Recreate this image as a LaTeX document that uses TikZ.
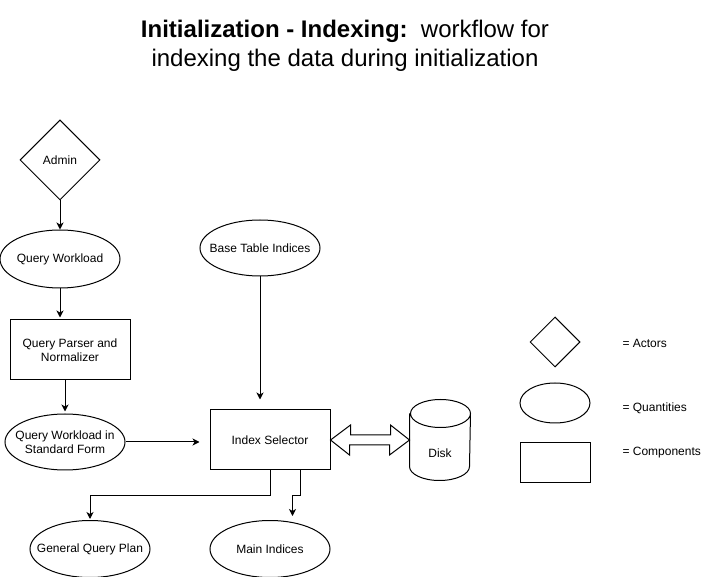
\documentclass[tikz,border=0pt]{standalone}
\usepackage{fontspec}
\setmainfont{Liberation Sans}
\usetikzlibrary{shapes.geometric,arrows.meta,calc}
\tikzset{
  actor/.style={diamond, draw, inner sep=0pt, minimum width=80, minimum height=80},
  quantity/.style={ellipse, draw, inner sep=0pt, minimum width=120, minimum height=56},
  qtext/.style={label={[align=center]center:#1}},
  component/.style={rectangle, draw, inner sep=0pt, minimum width=120, minimum height=60, align=center},
  flow/.style={->, >={Stealth[length=7pt,width=7pt,inset=2pt]}},
  dblarrow/.style={draw, line join=miter},
  legtext/.style={anchor=west, inner sep=0pt}
}
\begin{document}
\begin{tikzpicture}[x=1pt, y=-1pt, line width=1pt, font=\fontsize{12}{14}\selectfont]
\useasboundingbox (0,0) rectangle (721,577);
% title
\node[align=center, font=\fontsize{24}{28.5}\selectfont] (Title) at (345,46) {\textbf{Initialization - Indexing:}~~workflow for\\indexing the data during initialization};
% main flow
\node[actor] (Admin) at (60,160) {Admin};
\node[quantity, minimum height=58, qtext={Query Workload}] (QW) at (60,259) {};
\node[component] (Parser) at (70,350) {Query Parser and\\Normalizer};
\node[quantity, qtext={Query Workload in\\Standard Form}] (SF) at (65,442) {};
\node[quantity, qtext={Base Table Indices}] (BTI) at (260,248) {};
\node[component] (IS) at (270,440) {Index Selector};
\node[minimum width=60, minimum height=80, inner sep=0pt] (Disk) at (440,440) {};
\node (DiskLbl) at ($(Disk.center)+(0,13)$) {Disk};
\node[quantity, minimum height=57, qtext={General Query Plan}] (GQP) at (90,549) {};
\node[quantity, minimum height=57, qtext={Main Indices}] (MI) at (270,549) {};
% disk cylinder
\draw ($(Disk.north west)+(0,14)$) -- ($(Disk.south west)+(0,-14)$)
  arc[start angle=180, end angle=360, x radius=30pt, y radius=14pt]
  -- ($(Disk.north east)+(0,14)$)
  arc[start angle=0, end angle=360, x radius=30pt, y radius=14pt];
% connectors
\draw[flow] (Admin.south) -- (QW.north);
\draw[flow, shorten >=2pt] (QW.south) -- (QW.south |- Parser.north);
\draw[flow, shorten >=2pt] (SF.north |- Parser.south) -- (SF.north);
\draw[flow, shorten >=10pt] (SF.east) -- (SF.east -| IS.west);
\draw[flow, shorten >=10pt] (BTI.south) -- (BTI.south |- IS.north);
\draw[flow, shorten >=1pt] (IS.south) -- ++(0,25) -| (GQP.north);
\coordinate (MIin) at ($(MI.north)+(22.5,0)$);
\draw[flow, shorten >=4pt] ($(IS.south)+(30,0)$) -- ++(0,25) -| (MIin);
\draw[dblarrow] (IS.east) -- ++(20,-15) -- ++(0,10) -- ++(40,0) -- ++(0,-10) -- (Disk.west)
  -- ++(-20,15) -- ++(0,-10) -- ++(-40,0) -- ++(0,10) -- cycle;
% legend
\node[actor, minimum width=50, minimum height=50] (LegActor) at (555,342) {};
\node[quantity, minimum width=70, minimum height=40] (LegQty) at (555,403) {};
\node[component, minimum width=70, minimum height=40] (LegComp) at (555,463) {};
\node[legtext] (LegActorTxt) at (622,343) {= Actors};
\node[legtext] (LegQtyTxt) at (622,408) {= Quantities};
\node[legtext] (LegCompTxt) at (622,453) {= Components};
\end{tikzpicture}
\end{document}
